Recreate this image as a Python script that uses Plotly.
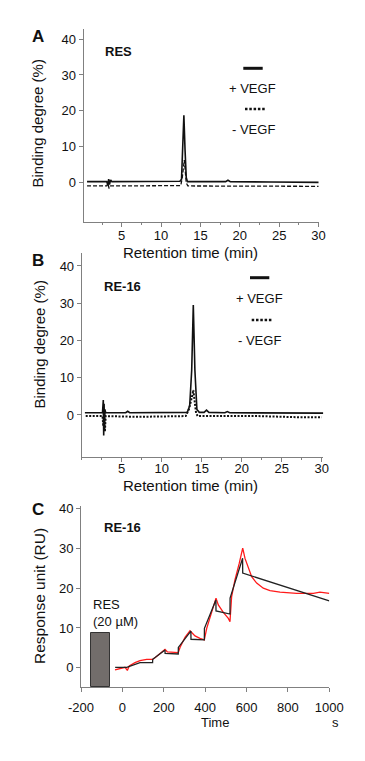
import plotly.graph_objects as go

# ---------------- Data ----------------
# Panel A (RES)
A_time_plus = [0.6, 3.1, 3.25, 3.35, 3.45, 3.6, 3.75, 8.0, 12.4, 12.6, 12.75, 12.9, 13.05, 13.2, 13.35, 18.2, 18.5, 18.8, 24.0, 30.0]
A_plus = [0.3, 0.3, -0.6, 1.0, -0.5, 0.8, 0.3, 0.3, 0.4, 1.0, 8.0, 18.8, 9.0, 1.5, 0.3, 0.3, 0.7, 0.3, 0.2, 0.1]
A_time_minus = [0.6, 3.1, 3.25, 3.4, 3.6, 8.0, 12.5, 12.7, 12.85, 12.95, 13.05, 13.2, 13.4, 20.0, 30.0]
A_minus = [-0.9, -0.9, -0.2, -1.6, -0.9, -0.9, -0.8, 1.5, 5.0, 6.3, 4.0, 0.0, -0.9, -0.9, -1.0]

# Panel B (RE-16)
B_time_plus = [0.4, 2.6, 2.7, 2.75, 2.8, 2.85, 2.9, 3.0, 5.5, 5.75, 6.0, 13.2, 13.5, 13.75, 13.95, 14.15, 14.4, 14.7, 15.3, 15.6, 15.9, 17.9, 18.2, 18.5, 30.2]
B_plus = [0.6, 0.6, 4.0, -5.5, 3.0, -4.0, 1.5, 0.6, 0.6, 1.0, 0.6, 0.7, 2.5, 12.0, 29.5, 12.0, 1.5, 0.7, 0.7, 1.3, 0.7, 0.6, 0.9, 0.6, 0.5]
B_time_minus = [0.5, 2.6, 2.7, 2.8, 2.9, 3.0, 7.0, 13.0, 13.4, 13.6, 13.8, 13.95, 14.1, 14.3, 14.5, 22.0, 27.0, 30.0]
B_minus = [-0.3, -0.3, -3.0, 1.5, -4.5, -0.3, -0.5, -0.3, 1.5, 3.0, 5.0, 6.7, 4.0, 0.5, -0.3, -0.3, -0.6, -0.6]

# Panel C (SPR sensorgram)
C_time_obs = [-35.7, -11.5, 12.7, 24, 33, 61, 85, 117.5, 146.5, 157.6, 181.8, 206, 217, 246, 270, 278.5,
              302.6, 326.8, 351, 375, 396, 407.5, 431.7, 452.5, 463.6, 487.8, 512, 520, 528, 544, 565,
              581.5, 592.6, 608.7, 624.8, 649, 681, 713.4, 761.8, 842.5, 923, 955, 1000]
C_obs = [-0.58, -0.16, 0.08, -0.7, 0.43, 1.26, 1.77, 2.1, 2.1, 2.5, 3.6, 4.6, 4.0, 3.8, 3.8, 5.1,
         7.65, 9.3, 8.0, 7.4, 7.0, 9.9, 14.1, 17.5, 15.8, 13.9, 12.4, 11.6, 17.9, 22.1, 26.3,
         30.1, 27.5, 25.0, 22.9, 21.3, 20.0, 19.4, 19.0, 18.7, 18.7, 19.0, 18.7]
C_time_fit = [-35, 21, 85, 146, 146.5, 206, 206.5, 270, 270.5, 331, 331.5, 396, 396.5, 452, 452.5, 520, 520.5, 581, 581.5, 1000]
C_fit = [0.1, 0.1, 1.26, 1.26, 2.1, 4.46, 3.6, 3.45, 5.1, 9.2, 7.15, 7.0, 9.9, 17.05, 14.3, 13.5, 17.5, 27.55, 23.8, 16.8]

bar_center = [-106.5]
bar_width = [93]
bar_top = [8.8]

A_yticks = [0, 10, 20, 30, 40]
AB_xticks = [5, 10, 15, 20, 25, 30]
C_xticks = [-200, 0, 200, 400, 600, 800, 1000]
C_xticklabels = ["-200", "0", "200", "400", "600", "800", "1000"]
C_yticks = [0, 10, 20, 30, 40]

# ---------------- Figure ----------------
OFF = 8  # page body margin
W, H = 365 - OFF, 761 - OFF
FONT = "Liberation Sans, Arial, sans-serif"
AX = "#808080"


def px(x):
    return (x - OFF) / W


def py(y):
    return 1 - (y - OFF) / H


fig = go.Figure()

fig.add_trace(go.Scatter(x=A_time_plus, y=A_plus, mode="lines", line=dict(color="#111", width=1.6),
                         xaxis="x", yaxis="y", showlegend=False))
fig.add_trace(go.Scatter(x=A_time_minus, y=A_minus, mode="lines", line=dict(color="#111", width=1.3, dash="4px,2px"),
                         xaxis="x", yaxis="y", showlegend=False))
fig.add_trace(go.Scatter(x=B_time_plus, y=B_plus, mode="lines", line=dict(color="#111", width=1.6),
                         xaxis="x2", yaxis="y2", showlegend=False))
fig.add_trace(go.Scatter(x=B_time_minus, y=B_minus, mode="lines", line=dict(color="#111", width=2, dash="2px,1.5px"),
                         xaxis="x2", yaxis="y2", showlegend=False))

C_ymin = -4.94
fig.add_trace(go.Bar(x=bar_center, y=[t - C_ymin for t in bar_top], base=[C_ymin] * len(bar_top), width=bar_width,
                     marker=dict(color="#726d6b", line=dict(color="#333", width=1)),
                     xaxis="x3", yaxis="y3", showlegend=False))
fig.add_trace(go.Scatter(x=C_time_obs, y=C_obs, mode="lines", line=dict(color="#ff1a1a", width=1.3),
                         xaxis="x3", yaxis="y3", showlegend=False))
fig.add_trace(go.Scatter(x=C_time_fit, y=C_fit, mode="lines", line=dict(color="#222", width=1.3),
                         xaxis="x3", yaxis="y3", showlegend=False))

axis_common = dict(showline=True, linecolor=AX, linewidth=1, ticks="outside", ticklen=4, tickcolor=AX,
                   tickwidth=1, showgrid=False, zeroline=False, automargin=False,
                   tickfont=dict(family=FONT, size=13, color="#111"))

minor = dict(ticks="outside", ticklen=2, tickcolor=AX, dtick=2.5, tick0=0, showgrid=False)

fig.update_layout(
    width=W, height=H, margin=dict(l=0, r=0, t=0, b=0, autoexpand=False),
    paper_bgcolor="white", plot_bgcolor="white", bargap=0,
    xaxis=dict(domain=[px(83.5), px(319.3)], range=[0.15, 30.1], tickvals=AB_xticks, anchor="y",
               minor=minor, ticklabelstandoff=-2, **axis_common),
    yaxis=dict(domain=[py(221.7), py(29)], range=[-10.85, 42.8], tickvals=A_yticks, anchor="x", **axis_common),
    xaxis2=dict(domain=[px(81.7), px(323.3)], range=[0, 30.2], tickvals=AB_xticks, anchor="y2",
                minor=minor, ticklabelstandoff=-4, **axis_common),
    yaxis2=dict(domain=[py(456.7), py(253.3)], range=[-11.2, 43.4], tickvals=A_yticks, anchor="x2", **axis_common),
    xaxis3=dict(domain=[px(81), px(329.3)], range=[-200, 1000], tickvals=C_xticks, ticktext=C_xticklabels,
                anchor="y3", ticklabelstandoff=4, **axis_common),
    yaxis3=dict(domain=[py(687.3), py(506)], range=[C_ymin, 40.7], tickvals=C_yticks, anchor="x3", **axis_common),
)


def txt(x, y, s, size=13, bold=False, angle=0, xanchor="center", align="center"):
    if bold:
        s = "<b>" + s + "</b>"
    fig.add_annotation(x=px(x), y=py(y), xref="paper", yref="paper", text=s, showarrow=False,
                       textangle=angle, xanchor=xanchor, yanchor="middle", align=align,
                       font=dict(family=FONT, size=size, color="#111"))


# Panel letters
txt(37.5, 36.5, "A", size=17, bold=True)
txt(37.5, 261, "B", size=17, bold=True)
txt(37.5, 509.5, "C", size=17, bold=True)

# Axis titles
txt(37.5, 124, "Binding degree (%)", size=15, angle=-90)
txt(191, 252.5, "Retention time (min)", size=15)
txt(38.5, 345, "Binding degree (%)", size=15, angle=-90)
txt(191, 485, "Retention time (min)", size=15)
txt(39, 596, "Response unit (RU)", size=15.5, angle=-90)
txt(214.5, 722.5, "Time", size=13)
txt(335, 722.5, "s", size=13)

# Panel labels
txt(118, 52, "RES", size=13, bold=True)
txt(122.8, 286, "RE-16", size=13, bold=True)
txt(122.3, 527.3, "RE-16", size=13, bold=True)

# Legends
txt(252.7, 88, "+ VEGF", size=13)
txt(253.5, 130, "- VEGF", size=13)
txt(259.2, 298.3, "+ VEGF", size=13)
txt(259.5, 340, "- VEGF", size=13)
fig.add_shape(type="line", xref="paper", yref="paper", x0=px(243.3), x1=px(262.7), y0=py(68.3), y1=py(68.3),
              line=dict(color="#111", width=3))
fig.add_shape(type="line", xref="paper", yref="paper", x0=px(245), x1=px(265.7), y0=py(109), y1=py(109),
              line=dict(color="#111", width=2.5, dash="2.5px,1.8px"))
fig.add_shape(type="line", xref="paper", yref="paper", x0=px(250), x1=px(269.3), y0=py(277.7), y1=py(277.7),
              line=dict(color="#111", width=3))
fig.add_shape(type="line", xref="paper", yref="paper", x0=px(251.7), x1=px(271.7), y0=py(320), y1=py(320),
              line=dict(color="#111", width=2.5, dash="2.5px,1.8px"))

# Bar annotation
txt(90.7, 613.3, "RES<br>(20 µM)", size=13, xanchor="left", align="left")

fig.write_html("out.html")
